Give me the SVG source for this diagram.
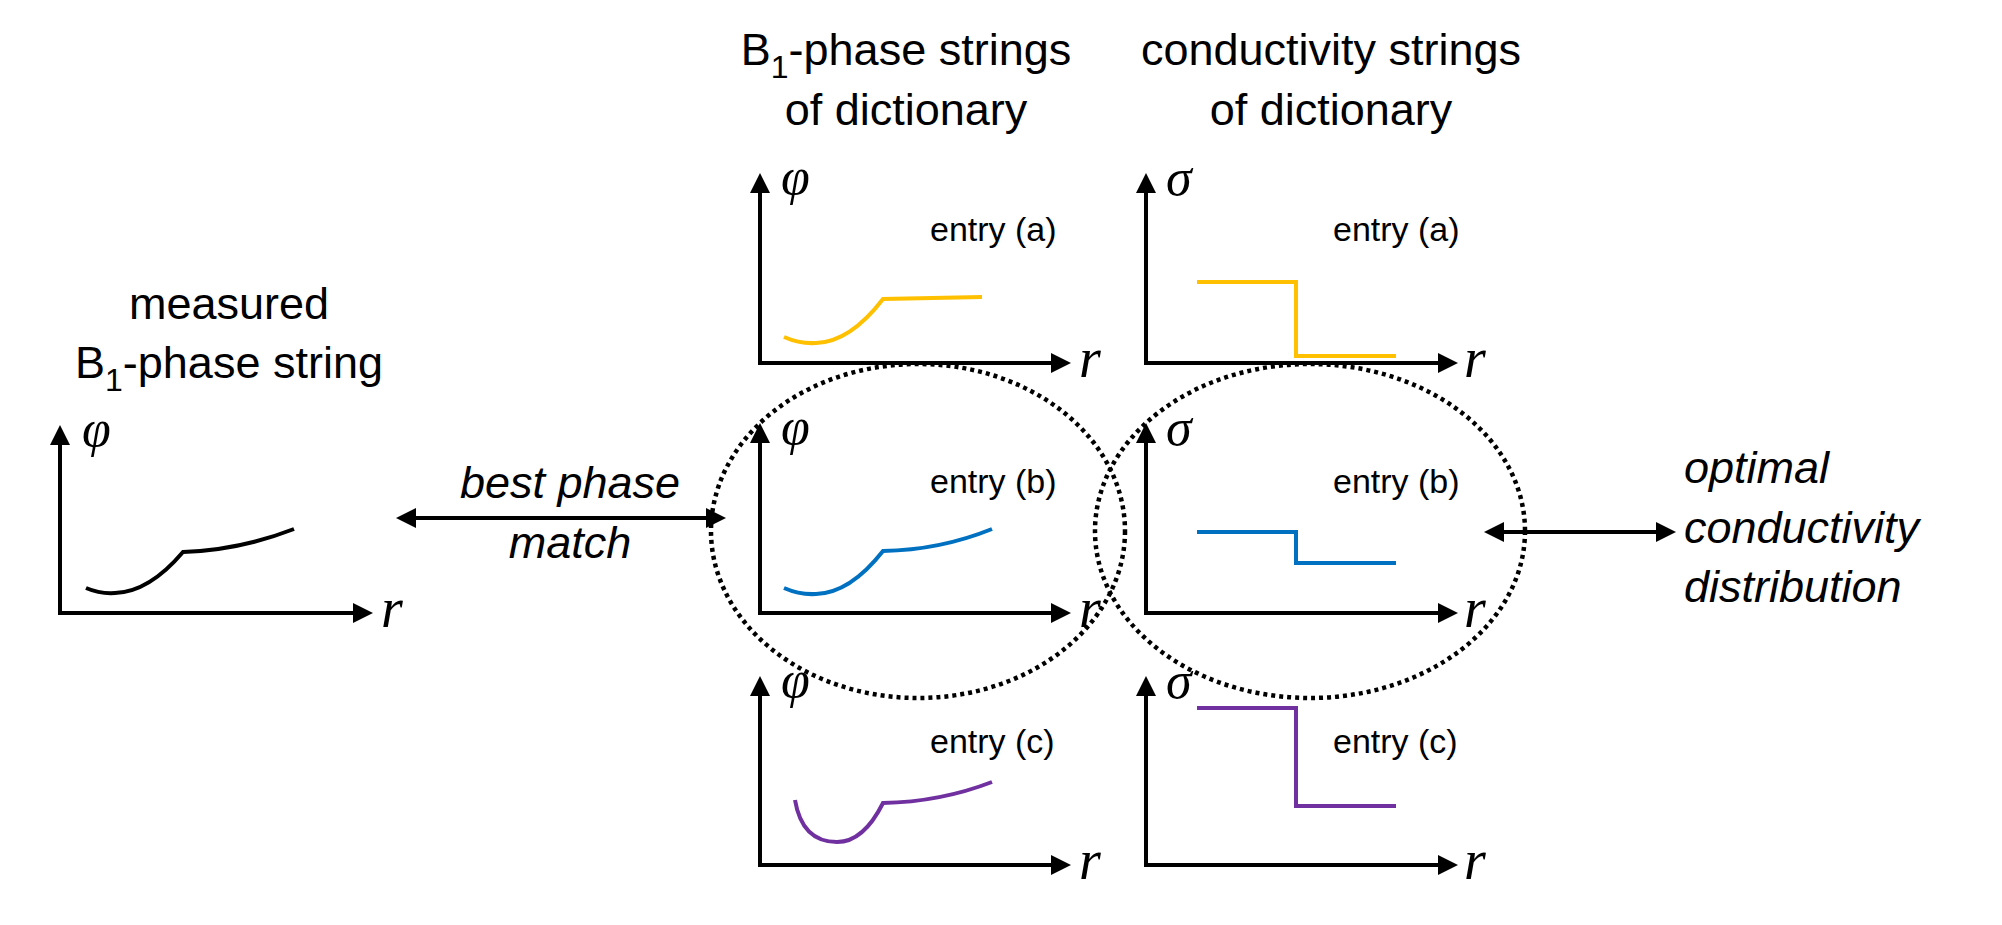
<svg xmlns="http://www.w3.org/2000/svg" width="2002" height="925" viewBox="0 0 2002 925">
<style>
.t{font-family:"Liberation Sans",Arial,sans-serif;font-size:45px;fill:#000}
.ti{font-family:"Liberation Sans",Arial,sans-serif;font-size:45px;font-style:italic;fill:#000}
.e{font-family:"Liberation Sans",Arial,sans-serif;font-size:34px;fill:#000}
.m{font-family:"Liberation Serif","Times New Roman",serif;font-style:italic;font-size:52px;fill:#000}
.r{font-family:"Liberation Serif","Times New Roman",serif;font-style:italic;font-size:56px;fill:#000}
.ax{fill:none;stroke:#000;stroke-width:4;stroke-linejoin:miter;marker-start:url(#ah);marker-end:url(#ah)}
.ar{fill:none;stroke:#000;stroke-width:4;marker-start:url(#ah);marker-end:url(#ah)}
.cv{fill:none;stroke-width:4}
.y{stroke:#FFC000}.b{stroke:#0070C0}.p{stroke:#7030A0}.k{stroke:#000}
.dot{fill:none;stroke:#000;stroke-width:4.5;stroke-dasharray:4 4}
</style>
<defs>
<marker id="ah" viewBox="0 0 20 20" refX="10" refY="10" markerWidth="20" markerHeight="20" markerUnits="userSpaceOnUse" orient="auto-start-reverse"><path d="M0,0 L20,10 L0,20 z" fill="#000"/></marker>
</defs>

<g id="headers">
<text class="t" x="229" y="319" text-anchor="middle">measured</text>
<text class="t" x="229" y="378" text-anchor="middle">B<tspan font-size="32" dy="13">1</tspan><tspan dy="-13">-phase string</tspan></text>
<text class="t" x="906" y="65" text-anchor="middle">B<tspan font-size="32" dy="13">1</tspan><tspan dy="-13">-phase strings</tspan></text>
<text class="t" x="906" y="125" text-anchor="middle">of dictionary</text>
<text class="t" x="1331" y="65" text-anchor="middle">conductivity strings</text>
<text class="t" x="1331" y="125" text-anchor="middle">of dictionary</text>
</g>

<g id="measured">
<path class="ax" d="M60,435 L60,613 L363,613"/>
<text class="m" x="82" y="446">φ</text>
<text class="r" x="381" y="627">r</text>
<path class="cv k" d="M86,588 Q100,594 115,593 Q149,592 183,552 Q240,550 294,529"/>
</g>

<g id="phase-a">
<path class="ax" d="M760,183 L760,363 L1061,363"/>
<text class="m" x="781" y="194">φ</text>
<text class="r" x="1079" y="377">r</text>
<text class="e" x="930" y="241">entry (a)</text>
<path class="cv y" d="M784,337 Q800,344 816,343 Q850,342 883,299 Q930,298 982,297"/>
</g>

<g id="phase-b">
<path class="ax" d="M760,433 L760,613 L1061,613"/>
<text class="m" x="781" y="444">φ</text>
<text class="r" x="1079" y="627">r</text>
<text class="e" x="930" y="493">entry (b)</text>
<path class="cv b" d="M784,588 Q800,595 816,594 Q850,593 883,551 Q940,550 992,529"/>
</g>

<g id="phase-c">
<path class="ax" d="M760,686 L760,865 L1061,865"/>
<text class="m" x="781" y="697">φ</text>
<text class="r" x="1079" y="879">r</text>
<text class="e" x="930" y="753">entry (c)</text>
<path class="cv p" d="M795,800 C800,830 815,842 837,842 C858,842 872,825 883,803 Q940,802 992,782"/>
</g>

<g id="cond-a">
<path class="ax" d="M1146,183 L1146,363 L1448,363"/>
<text class="m" x="1166" y="195">σ</text>
<text class="r" x="1464" y="377">r</text>
<text class="e" x="1333" y="241">entry (a)</text>
<path class="cv y" d="M1197,282 L1296,282 L1296,356 L1396,356"/>
</g>

<g id="cond-b">
<path class="ax" d="M1146,433 L1146,613 L1448,613"/>
<text class="m" x="1166" y="445">σ</text>
<text class="r" x="1464" y="627">r</text>
<text class="e" x="1333" y="493">entry (b)</text>
<path class="cv b" d="M1197,532 L1296,532 L1296,563 L1396,563"/>
</g>

<g id="cond-c">
<path class="ax" d="M1146,686 L1146,865 L1448,865"/>
<text class="m" x="1166" y="698">σ</text>
<text class="r" x="1464" y="879">r</text>
<text class="e" x="1333" y="753">entry (c)</text>
<path class="cv p" d="M1197,708 L1296,708 L1296,806 L1396,806"/>
</g>

<g id="selection">
<ellipse class="dot" cx="918" cy="531" rx="207" ry="167"/>
<ellipse class="dot" cx="1310" cy="531" rx="215" ry="167"/>
</g>

<g id="connectors">
<line class="ar" x1="406" y1="518" x2="716" y2="518"/>
<line class="ar" x1="1494" y1="532" x2="1666" y2="532"/>
</g>

<g id="connector-labels">
<text class="ti" x="570" y="498" text-anchor="middle">best phase</text>
<text class="ti" x="570" y="558" text-anchor="middle">match</text>
<text class="ti" x="1684" y="483">optimal</text>
<text class="ti" x="1684" y="543">conductivity</text>
<text class="ti" x="1684" y="602">distribution</text>
</g>
</svg>
